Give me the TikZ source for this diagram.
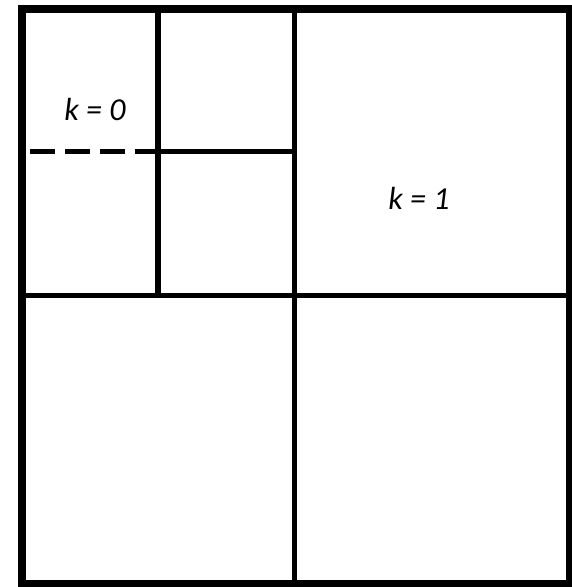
\documentclass[tikz,border=0pt]{standalone}
\usepackage{fontspec}
\setmainfont{Carlito}
\begin{document}
\begin{tikzpicture}[x=1pt,y=-1pt,
  frame/.style={line width=8pt},
  div/.style={line width=5.5pt},
  dashdiv/.style={line width=5.5pt, dash pattern=on 25pt off 10pt},
  lbl/.style={font=\fontsize{32}{34}\selectfont\itshape, anchor=base, inner sep=0pt}]
\useasboundingbox (0,0) rectangle (571,587);
\fill[white] (0,0) rectangle (571,587);
\coordinate (tl) at (22,8.5);
\coordinate (br) at (569.5,584);
\coordinate (vt) at (294.5,8.5);
\coordinate (vb) at (294.5,584);
\coordinate (hl) at (22,295.5);
\coordinate (hr) at (569.5,295.5);
\coordinate (v2t) at (158,8.5);
\coordinate (v2b) at (158,295.5);
\coordinate (h2l) at (30,151.5);
\coordinate (h2m) at (158,151.5);
\coordinate (h2r) at (294.5,151.5);
\draw[div] (vt) -- (vb);
\draw[div] (hl) -- (hr);
\draw[div] (v2t) -- (v2b);
\draw[div] (h2m) -- (h2r);
\draw[dashdiv] (h2l) -- (h2m);
\draw[frame] (tl) rectangle (br);
\node[lbl] (k0) at (95,120) {k = 0};
\node[lbl] (k1) at (419,209) {k = 1};
\end{tikzpicture}
\end{document}
